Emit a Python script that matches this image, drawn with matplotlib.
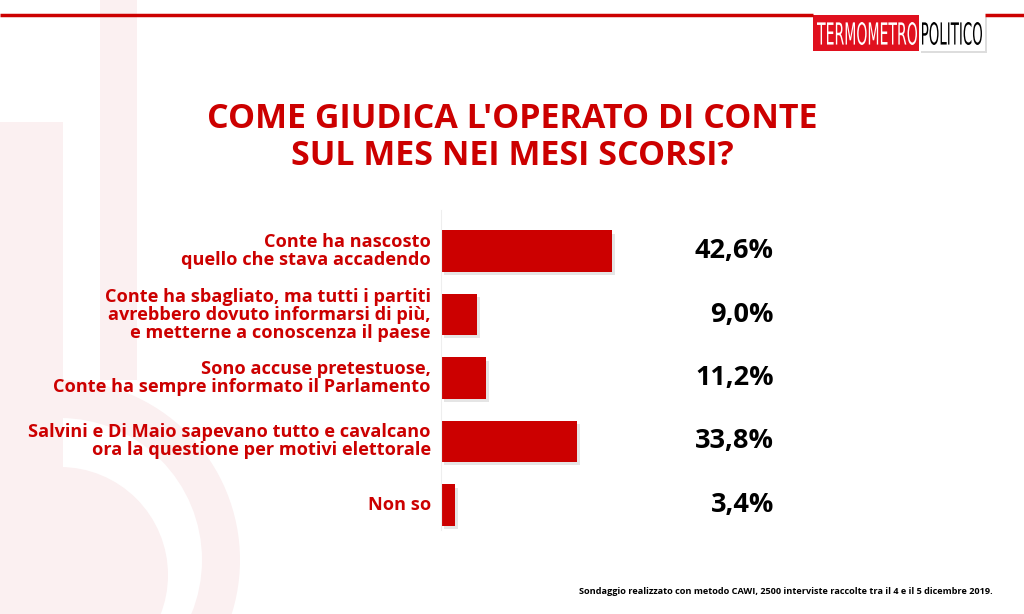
import numpy as np
import matplotlib
matplotlib.use("Agg")
import matplotlib.pyplot as plt
from matplotlib.patches import Rectangle, Circle, Wedge, PathPatch
from matplotlib.textpath import TextPath
from matplotlib.font_manager import FontProperties
from matplotlib.transforms import Affine2D, blended_transform_factory

RED = '#cc0000'
PINK = '#fbf0f1'

categories = ['Conte ha nascosto\nquello che stava accadendo',
              'Conte ha sbagliato, ma tutti i partiti\navrebbero dovuto informarsi di più,\ne metterne a conoscenza il paese',
              'Sono accuse pretestuose,\nConte ha sempre informato il Parlamento',
              'Salvini e Di Maio sapevano tutto e cavalcano\nora la questione per motivi elettorale',
              'Non so']
values = [42.6, 9.0, 11.2, 33.8, 3.4]
value_labels = ['42,6%', '9,0%', '11,2%', '33,8%', '3,4%']

title = "COME GIUDICA L'OPERATO DI CONTE\nSUL MES NEI MESI SCORSI?"
note = 'Sondaggio realizzato con metodo CAWI, 2500 interviste raccolte tra il 4 e il 5 dicembre 2019.'

plt.rcParams['font.family'] = ['Open Sans', 'DejaVu Sans']

fig = plt.figure(figsize=(10.24, 6.14), dpi=100)
fig.patch.set_facecolor('white')

# background layer in pixel coordinates
bg = fig.add_axes([0, 0, 1, 1], zorder=0)
bg.set_xlim(0, 1024)
bg.set_ylim(614, 0)
bg.axis('off')

# faint watermark
bg.add_patch(Rectangle((0, 122), 63, 500, color=PINK, lw=0))
bg.add_patch(Rectangle((100, 0), 37, 380, color=PINK, lw=0))
bg.add_patch(Circle((60, 575), 108, color=PINK, lw=0))
bg.add_patch(Wedge((60, 560), 180, -90, 90, width=38, color=PINK, lw=0))

# top line and logo
bg.plot([0, 813], [15, 15], color=RED, lw=2.5, solid_capstyle='butt')
bg.plot([985, 1024], [15, 15], color=RED, lw=2.5, solid_capstyle='butt')
bg.add_patch(Rectangle((921, 17), 66, 36, color='#dddddd', lw=0))
bg.add_patch(Rectangle((813, 15), 106, 36, color='#e0101e', lw=0))
bg.add_patch(Rectangle((919, 15), 66, 36, color='white', lw=0))


def fit_text(s, x0, x1, y0, y1, color):
    fp = FontProperties(family='DejaVu Sans')
    tp = TextPath((0, 0), s, size=1, prop=fp)
    ext = tp.get_extents()
    tr = (Affine2D().translate(-ext.x0, -ext.y0)
          .scale((x1 - x0) / ext.width, -(y1 - y0) / ext.height)
          .translate(x0, y1))
    bg.add_patch(PathPatch(tr.transform_path(tp), color=color, lw=0))


fit_text('TERMOMETRO', 817, 917, 22, 45, 'white')
fit_text('POLITICO', 922, 982, 22, 45, 'black')

fig.text(0.5, 1 - 137.5 / 614, title, ha='center', va='center',
         fontsize=24.5, fontweight='bold', color=RED, linespacing=1.15)

# bars
ax = fig.add_axes([441 / 1024, 1 - 530 / 614, 401 / 1024, 320 / 614], zorder=1)
ax.patch.set_alpha(0)
y = np.arange(len(values))
ax.barh(y + 0.05, values, height=0.65, left=0.8, color='#999999', alpha=0.25, zorder=1)
ax.barh(y, values, height=0.65, color=RED, zorder=2)
ax.set_xlim(0, 100)
ax.set_ylim(4.394, -0.646)
for s in ['top', 'right', 'bottom']:
    ax.spines[s].set_visible(False)
ax.spines['left'].set_color('#eeeeee')
ax.set_xticks([])
ax.set_yticks([])

tr = blended_transform_factory(ax.transAxes, ax.transData)
for i in range(len(values)):
    ax.text(-0.025, y[i], categories[i], transform=tr, ha='right', va='center',
            multialignment='right', fontsize=13.1, fontweight='bold', color=RED,
            linespacing=1.0)
    ax.text(0.830, y[i], value_labels[i], transform=tr, ha='right', va='center',
            fontsize=19.5, fontweight='bold', color='black')

fig.text(993 / 1024, 1 - 592 / 614, note, ha='right', va='center',
         fontsize=6.6, fontweight='bold', color='black')

fig.savefig('out.png', dpi=100)
